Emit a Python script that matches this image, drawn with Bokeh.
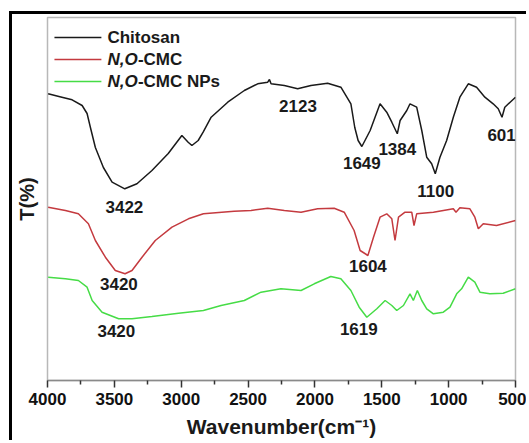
from bokeh.plotting import figure
from bokeh.models import Range1d, FixedTicker, Label
from bokeh.embed import file_html
from bokeh.resources import INLINE

# ---- data ----
chitosan_wn = [3995, 3900, 3816, 3741, 3704, 3679, 3642, 3582, 3517, 3422,
               3331, 3219, 3097, 2995, 2948, 2920, 2873, 2836, 2776, 2652,
               2528, 2428, 2353, 2340, 2328, 2229, 2129, 2030, 1905, 1806,
               1731, 1702, 1677, 1649, 1587, 1513, 1463, 1425, 1384, 1363,
               1313, 1289, 1239, 1201, 1164, 1127, 1100, 1065, 1015, 965,
               916, 853, 791, 729, 667, 629, 601, 580, 500]
chitosan_t = [286.7, 283.5, 280.7, 275, 267, 253, 233, 213, 198.3, 191.7,
              196.7, 210, 227, 245, 238.3, 235, 240, 248.3, 263.3, 278.3,
              290, 296.7, 298.3, 301, 296.7, 295, 291.7, 295, 297.3, 293.3,
              276.7, 253, 240, 234, 250, 276.7, 268.3, 258.3, 246.7, 260,
              270, 276.7, 273.3, 250, 223.3, 216.7, 206.7, 223.3, 240, 263.3,
              283.3, 296.7, 293.3, 283.3, 276.7, 271.7, 263.3, 273.3, 283.3]

cmc_wn = [3995, 3866, 3769, 3694, 3642, 3567, 3493, 3420, 3368, 3293,
          3194, 3069, 2946, 2834, 2604, 2478, 2353, 2229, 2104, 1980,
          1856, 1781, 1707, 1662, 1604, 1562, 1513, 1463, 1425, 1401,
          1375, 1326, 1276, 1259, 1239, 1114, 965, 945, 916, 841,
          804, 778, 741, 642, 500]
cmc_t = [173.3, 170, 166.7, 156.7, 140, 123.3, 110, 106.7, 110, 123.3,
         140, 153.3, 161.7, 166.7, 169.3, 170, 172.3, 170, 168.3, 171.7,
         172.3, 168.3, 150, 130, 125, 143.3, 163.3, 166.7, 161.7, 140,
         163.3, 168.3, 168.3, 155, 166.7, 168.3, 171.7, 168.3, 172.7, 171.7,
         163.3, 151.7, 156.7, 155, 160]

nps_wn = [3995, 3866, 3769, 3704, 3666, 3592, 3468, 3368, 3219, 3020,
          2834, 2702, 2528, 2403, 2254, 2104, 2005, 1881, 1806, 1731,
          1669, 1612, 1537, 1475, 1425, 1388, 1338, 1289, 1264, 1234,
          1201, 1164, 1114, 1040, 990, 940, 903, 853, 804, 766,
          692, 592, 500]
nps_t = [103.3, 101.7, 100, 93.3, 80, 68.3, 61.7, 61.7, 64, 67.3,
         70, 75, 80, 88.3, 91.7, 90, 96.7, 104, 101.7, 90,
         73.3, 63.3, 71.7, 80, 75, 70, 75, 86.7, 80, 90,
         80, 71.7, 66.7, 68.3, 73.3, 86.7, 91.7, 103.3, 98.3, 88.3,
         86.7, 87.3, 91.7]

peak_text = ["3422", "2123", "1649", "1384", "1100", "601", "3420", "1604", "3420", "1619"]
peak_x = [3425, 2127, 1649, 1384, 1097, 604, 3466, 1604, 3485, 1672]
peak_y = [174, 275, 218, 232, 190, 246, 97, 115, 50, 52]

x_ticks = [4000, 3500, 3000, 2500, 2000, 1500, 1000, 500]
x_minor_ticks = [3750, 3250, 2750, 2250, 1750, 1250, 750]

FONT = "Liberation Sans"
TXT = "#1a1a1a"
BLACK = "#1a1a1a"
RED = "#c43a3f"
GREEN = "#46dc46"

p = figure(width=517, height=429, output_backend="svg", toolbar_location=None,
           x_range=Range1d(4000, 500), y_range=Range1d(0, 363),
           min_border_left=34, min_border_right=14, min_border_top=3,
           min_border_bottom=63,
           styles={"margin-left": "9px", "margin-top": "11px",
                   "border-left": "3px solid black", "border-top": "3px solid black"})
p.grid.visible = False
p.outline_line_color = "#b8b8b8"
p.outline_line_width = 1.5
p.background_fill_color = "white"
p.border_fill_color = "white"

p.line(chitosan_wn, chitosan_t, line_color=BLACK, line_width=1.5)
p.line(cmc_wn, cmc_t, line_color=RED, line_width=1.5)
p.line(nps_wn, nps_t, line_color=GREEN, line_width=1.5)

# x axis
xa = p.xaxis[0]
xa.ticker = FixedTicker(ticks=x_ticks, minor_ticks=x_minor_ticks)
xa.axis_line_color = "#8a8a8a"
xa.axis_line_width = 1.5
xa.major_tick_line_color = "#333333"
xa.major_tick_line_width = 1.5
xa.major_tick_out = 7
xa.major_tick_in = 0
xa.minor_tick_line_color = "#333333"
xa.minor_tick_line_width = 1.5
xa.minor_tick_out = 4
xa.minor_tick_in = 0
xa.major_label_text_font = FONT
xa.major_label_text_font_style = "bold"
xa.major_label_text_font_size = "17px"
xa.major_label_text_color = "#111111"
xa.major_label_standoff = 5
xa.axis_label = "Wavenumber(cm\u207b\u00b9)"
xa.axis_label_text_font = FONT
xa.axis_label_text_font_style = "bold"
xa.axis_label_text_font_size = "21px"
xa.axis_label_text_color = TXT
xa.axis_label_standoff = 7

# y axis: label only
ya = p.yaxis[0]
ya.ticker = FixedTicker(ticks=[])
ya.axis_line_color = None
ya.major_tick_line_color = None
ya.minor_tick_line_color = None
ya.axis_label = "T(%)"
ya.axis_label_text_font = FONT
ya.axis_label_text_font_style = "bold"
ya.axis_label_text_font_size = "20px"
ya.axis_label_text_color = TXT
ya.axis_label_standoff = 10

# peak annotations
for t, x, y in zip(peak_text, peak_x, peak_y):
    p.add_layout(Label(x=x, y=y, text=t, text_align="center", text_baseline="middle",
                       text_font=FONT, text_font_style="bold", text_font_size="17px",
                       text_color=TXT))

# custom legend (italic N,O)
leg_rows = [343, 321, 299]
leg_colors = [BLACK, RED, GREEN]
for yy, c in zip(leg_rows, leg_colors):
    p.line([3948, 3597], [yy, yy], line_color=c, line_width=1.5)

def leg_label(yy, text, style, xoff=0):
    p.add_layout(Label(x=3552, y=yy, x_offset=xoff, text=text, text_align="left",
                       text_baseline="middle", text_font=FONT, text_font_style=style,
                       text_font_size="17px", text_color=TXT))

leg_label(leg_rows[0], "Chitosan", "bold")
leg_label(leg_rows[1], "N,O", "bold italic")
leg_label(leg_rows[1], "-CMC", "bold", 30.5)
leg_label(leg_rows[2], "N,O", "bold italic")
leg_label(leg_rows[2], "-CMC NPs", "bold", 30.5)

open("out.html", "w").write(file_html(p, INLINE))
